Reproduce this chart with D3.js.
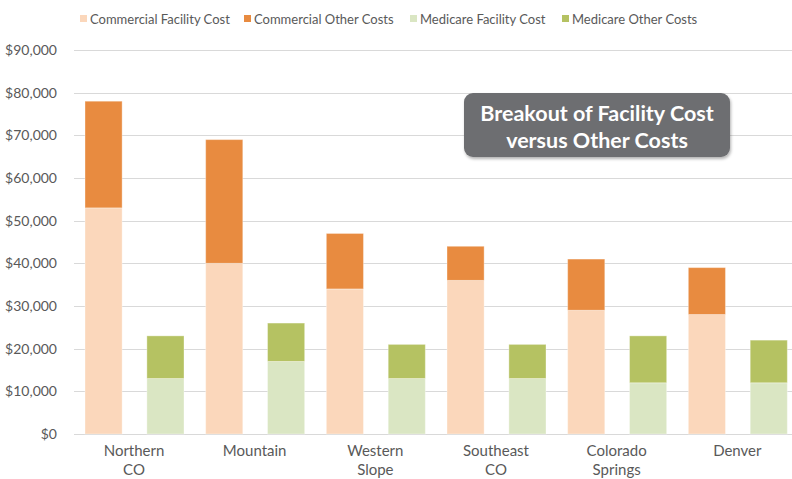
<!DOCTYPE html>
<html>
<head>
<meta charset="utf-8">
<script src="https://cdn.jsdelivr.net/npm/d3@7"></script>
<style>
	body { margin: 0; background: #fff; }
	svg { display: block; font-family: Lato, "Open Sans", sans-serif; }
</style>
</head>
<body>
<div id="chart"></div>
<script>
var regions = [["Northern", "CO"], ["Mountain"], ["Western", "Slope"], ["Southeast", "CO"], ["Colorado", "Springs"], ["Denver"]];
var commercialFacility = [53000, 40000, 34000, 36000, 29000, 28000];
var commercialOther = [25000, 29000, 13000, 8000, 12000, 11000];
var medicareFacility = [13000, 17000, 13000, 13000, 12000, 12000];
var medicareOther = [10000, 9000, 8000, 8000, 11000, 10000];
var yTicks = [0, 10000, 20000, 30000, 40000, 50000, 60000, 70000, 80000, 90000];
var seriesNames = ["Commercial Facility Cost", "Commercial Other Costs", "Medicare Facility Cost", "Medicare Other Costs"];
var seriesColors = ["#FBD7BB", "#E88B40", "#DAE6C3", "#B5C262"];

var width = 792, height = 479;
var svg = d3.select("#chart").append("svg")
	.attr("width", width)
	.attr("height", height);

var keys = regions.map(d => d.join(" "));
var x = d3.scaleBand().domain(keys).range([74, 798]).padding(0);
var x1 = d3.scaleBand().domain(["Commercial", "Medicare"]).range([11, 110]).paddingInner(0.4);
var y = d3.scaleLinear().domain([0, 90000]).range([434, 50]);

// gridlines
svg.append("g").selectAll("line")
	.data(yTicks)
	.join("line")
	.attr("x1", 74).attr("x2", width)
	.attr("y1", d => Math.round(y(d)) + 0.5)
	.attr("y2", d => Math.round(y(d)) + 0.5)
	.attr("stroke", "#D9D9D9")
	.attr("stroke-width", 1);

// y labels
var fmt = d3.format("$,");
svg.append("g").selectAll("text")
	.data(yTicks)
	.join("text")
	.attr("x", 57)
	.attr("y", d => y(d))
	.attr("dy", "0.35em")
	.attr("text-anchor", "end")
	.style("font-size", "14px")
	.style("fill", "#595959")
	.text(d => fmt(d));

// stacked bars
var rows = keys.map((k, i) => ({
	key: k,
	cf: commercialFacility[i], co: commercialOther[i],
	mf: medicareFacility[i], mo: medicareOther[i]
}));

var barsG = svg.append("g");
rows.forEach((d, i) => {
	var g = barsG.append("g").attr("transform", "translate(" + x(d.key) + ",0)");
	var segs = [
		{ grp: "Commercial", y0: 0, y1: d.cf, c: seriesColors[0] },
		{ grp: "Commercial", y0: d.cf, y1: d.cf + d.co, c: seriesColors[1] },
		{ grp: "Medicare", y0: 0, y1: d.mf, c: seriesColors[2] },
		{ grp: "Medicare", y0: d.mf, y1: d.mf + d.mo, c: seriesColors[3] }
	];
	g.selectAll("rect")
		.data(segs)
		.join("rect")
		.attr("x", s => x1(s.grp))
		.attr("width", x1.bandwidth())
		.attr("y", s => y(s.y1))
		.attr("height", s => y(s.y0) - y(s.y1))
		.attr("fill", s => s.c)
		.attr("stroke", "rgba(255,255,255,0.35)")
		.attr("stroke-width", 1);
});

// x labels
var xl = svg.append("g").selectAll("text")
	.data(regions)
	.join("text")
	.attr("text-anchor", "middle")
	.attr("x", (d, i) => x(keys[i]) + 60)
	.attr("y", 456)
	.style("font-size", "15px")
	.style("fill", "#595959");
xl.selectAll("tspan")
	.data(d => d)
	.join("tspan")
	.attr("x", function() { return d3.select(this.parentNode).attr("x"); })
	.attr("dy", (d, i) => i == 0 ? 0 : 19)
	.text(d => d);

// legend
var legendX = [80, 244, 410, 562];
var lg = svg.append("g").selectAll("g")
	.data(seriesNames)
	.join("g")
	.attr("transform", (d, i) => "translate(" + legendX[i] + ",0)");
lg.append("rect")
	.attr("x", 0).attr("y", 15)
	.attr("width", 7).attr("height", 7)
	.attr("fill", (d, i) => seriesColors[i]);
lg.append("text")
	.attr("x", 10).attr("y", 19)
	.attr("dy", "0.35em")
	.style("font-size", "13px")
	.style("fill", "#595959")
	.text(d => d);

// title box
var defs = svg.append("defs");
var f = defs.append("filter").attr("id", "shadow").attr("x", "-10%").attr("y", "-10%").attr("width", "120%").attr("height", "130%");
f.append("feDropShadow").attr("dx", 1).attr("dy", 2).attr("stdDeviation", 1.5).attr("flood-color", "#000").attr("flood-opacity", 0.3);

var tb = svg.append("g");
tb.append("rect")
	.attr("x", 464).attr("y", 93)
	.attr("width", 266).attr("height", 64)
	.attr("rx", 9)
	.attr("fill", "#6D6E71")
	.attr("filter", "url(#shadow)");
tb.append("text")
	.attr("text-anchor", "middle")
	.attr("x", 597)
	.attr("y", 121)
	.style("font-size", "21.5px")
	.style("font-weight", "bold")
	.style("fill", "#fff")
	.selectAll("tspan")
	.data(["Breakout of Facility Cost", "versus Other Costs"])
	.join("tspan")
	.attr("x", 597)
	.attr("dy", (d, i) => i == 0 ? 0 : 27)
	.text(d => d);
</script>
</body>
</html>
